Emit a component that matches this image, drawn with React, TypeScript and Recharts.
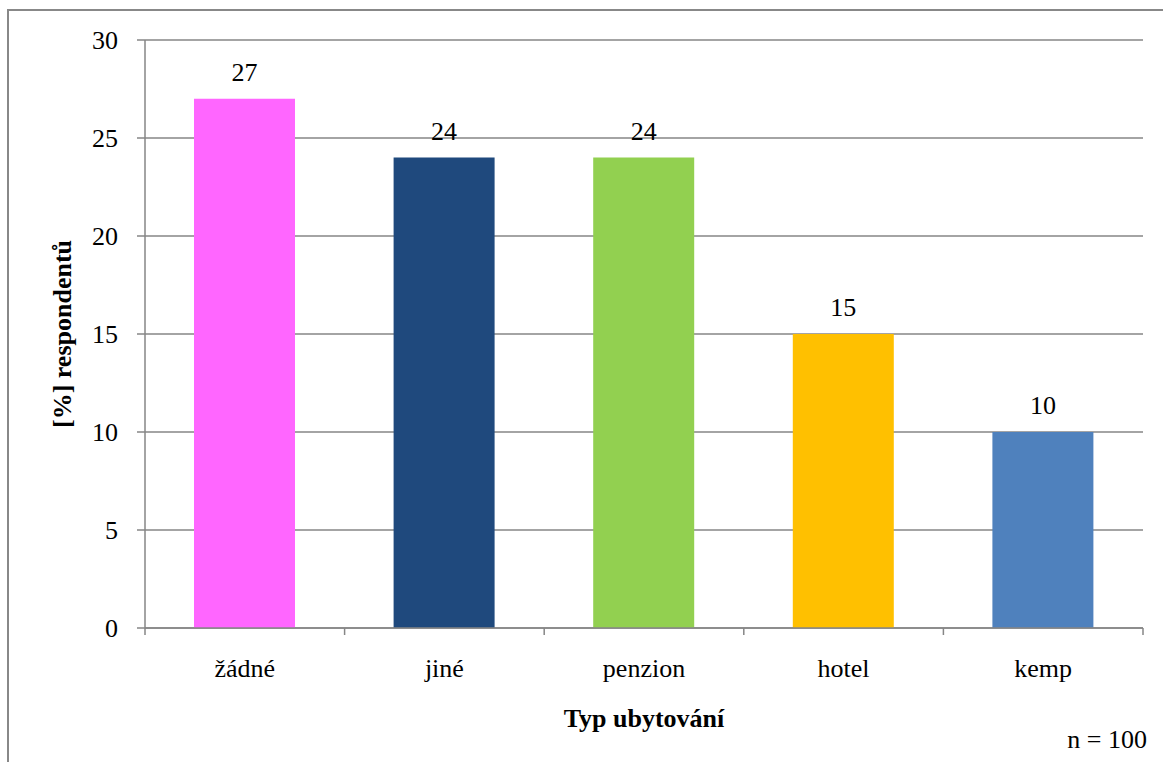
import React from 'react';
import { BarChart, Bar, XAxis, YAxis, CartesianGrid, Cell, LabelList } from 'recharts';

const categories = ['žádné', 'jiné', 'penzion', 'hotel', 'kemp'];
const shares = [27, 24, 24, 15, 10];
const barColors = ['#FF66FF', '#1F497D', '#92D050', '#FFC000', '#4F81BD'];
const yTicks = [0, 5, 10, 15, 20, 25, 30];

const data = categories.map((name, i) => ({ name, value: shares[i] }));

const W = 1163;
const H = 762;
const margin = { top: 40, right: 20, bottom: 0, left: 0 };
const Y_AXIS_W = 145;
const X_AXIS_H = 134;
const PLOT_W = W - margin.left - margin.right - Y_AXIS_W;
const PLOT_BOTTOM = H - margin.bottom - X_AXIS_H;
const BAND = PLOT_W / categories.length;

const FONT = '"Liberation Serif", "Times New Roman", serif';
const AXIS_GRAY = '#868686';

// category label centred in its band, with short ticks on the band edges
const CategoryTick = (props: any) => {
  const { x, payload } = props;
  const last = payload.index === categories.length - 1;
  return (
    <g>
      <line x1={x - BAND / 2} x2={x - BAND / 2} y1={PLOT_BOTTOM} y2={PLOT_BOTTOM + 7} stroke={AXIS_GRAY} strokeWidth={1.5} />
      {last && (
        <line x1={x + BAND / 2} x2={x + BAND / 2} y1={PLOT_BOTTOM} y2={PLOT_BOTTOM + 7} stroke={AXIS_GRAY} strokeWidth={1.5} />
      )}
      <text x={x} y={PLOT_BOTTOM + 40} textAnchor="middle" dominantBaseline="central" fontSize={26} fontFamily={FONT} fill="#000">
        {payload.value}
      </text>
    </g>
  );
};

const YTitle = (props: any) => {
  const { viewBox } = props;
  const cx = 62;
  const cy = viewBox.y + viewBox.height / 2;
  return (
    <text x={cx} y={cy} transform={`rotate(-90 ${cx} ${cy})`} textAnchor="middle" dominantBaseline="central"
      fontSize={26} fontWeight="bold" fontFamily={FONT} fill="#000">
      [%] respondentů
    </text>
  );
};

const XTitle = (props: any) => {
  const { viewBox } = props;
  return (
    <text x={viewBox.x + viewBox.width / 2} y={PLOT_BOTTOM + 90} textAnchor="middle" dominantBaseline="central"
      fontSize={26} fontWeight="bold" fontFamily={FONT} fill="#000">
      Typ ubytování
    </text>
  );
};

export default function App() {
  return (
    <div style={{ position: 'fixed', left: 0, top: 0, width: W, height: H, overflow: 'hidden', background: '#fff' }}>
      <div style={{ position: 'absolute', left: 7, top: 9, width: 1200, height: 800, border: '2px solid #888' }} />
      <div style={{ position: 'absolute', left: 0, top: 0 }}>
        <BarChart width={W} height={H} data={data} margin={margin} barCategoryGap={0}>
          <CartesianGrid vertical={false} stroke={AXIS_GRAY} strokeWidth={1.5} />
          <XAxis
            dataKey="name"
            height={X_AXIS_H}
            axisLine={{ stroke: AXIS_GRAY, strokeWidth: 1.5 }}
            tickLine={false}
            tick={<CategoryTick />}
            interval={0}
            label={<XTitle />}
          />
          <YAxis
            width={Y_AXIS_W}
            domain={[0, 30]}
            ticks={yTicks}
            interval={0}
            axisLine={{ stroke: AXIS_GRAY, strokeWidth: 1.5 }}
            tickLine={{ stroke: AXIS_GRAY, strokeWidth: 1.5 }}
            tickSize={8}
            tickMargin={19}
            tick={{ fill: '#000', fontSize: 26, fontFamily: FONT }}
            label={<YTitle />}
          />
          <Bar dataKey="value" barSize={101} isAnimationActive={false}>
            {data.map((d, i) => (
              <Cell key={d.name} fill={barColors[i]} />
            ))}
            <LabelList dataKey="value" position="top" offset={18} fill="#000" fontSize={26} fontFamily={FONT} />
          </Bar>
        </BarChart>
      </div>
      <div style={{ position: 'absolute', right: 16, top: 724, fontSize: 26, fontFamily: FONT, color: '#000', lineHeight: '32px' }}>
        n = 100
      </div>
    </div>
  );
}
